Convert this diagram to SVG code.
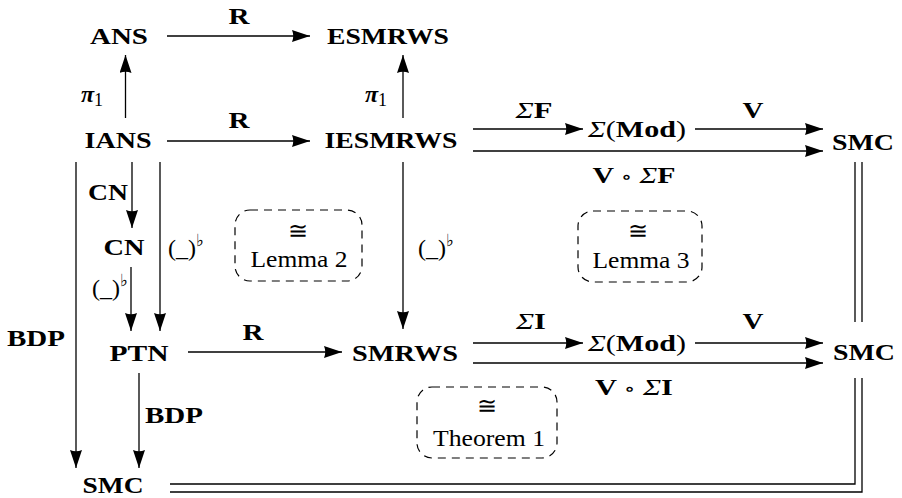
<svg xmlns="http://www.w3.org/2000/svg" width="902" height="498" viewBox="0 0 902 498">
<defs>
<marker id="ah" markerUnits="userSpaceOnUse" markerWidth="19" markerHeight="12" viewBox="0 0 19 12" refX="18" refY="6" orient="auto">
<path d="M0,0 L18,6 L0,12 Q2.5,6 0,0 z" fill="#000"/>
</marker>
<style>
.n{font-family:"Liberation Serif","Times New Roman",serif;font-weight:bold;font-size:24px;text-anchor:middle;fill:#000}
.r{font-family:"Liberation Serif","Times New Roman",serif;font-weight:normal;font-size:24px;text-anchor:middle;fill:#000}
.s{font-family:"DejaVu Serif",serif;font-size:24px;text-anchor:middle;fill:#000}
.st{font-family:"Liberation Serif","Times New Roman",serif;font-size:24px;fill:#000}
.fl{font-family:"DejaVu Sans",sans-serif;font-size:17px}
.it{font-style:italic;font-weight:normal}
.ring{font-family:"DejaVu Serif",serif;font-weight:normal;font-size:18px}
.a{stroke:#000;stroke-width:1.3;fill:none;marker-end:url(#ah)}
.dl{stroke:#000;stroke-width:1.3;fill:none}
.box{fill:none;stroke:#000;stroke-width:1.2;stroke-dasharray:8 6}
</style>
</defs>
<rect width="902" height="498" fill="#fff"/>

<g id="connectors">
<line class="a" x1="167" y1="36" x2="310" y2="36"/>
<line class="a" x1="167" y1="141" x2="310" y2="141"/>
<line class="a" x1="125.5" y1="118" x2="125.5" y2="55"/>
<line class="a" x1="403" y1="118" x2="403" y2="55"/>
<line class="a" x1="473" y1="129" x2="583" y2="129"/>
<line class="a" x1="695" y1="129" x2="823" y2="129"/>
<line class="a" x1="473" y1="151" x2="823" y2="151"/>
<line class="a" x1="132" y1="162" x2="132" y2="228"/>
<line class="a" x1="131" y1="267" x2="131" y2="331"/>
<line class="a" x1="160" y1="162" x2="160" y2="331"/>
<line class="a" x1="403" y1="162" x2="403" y2="329"/>
<line class="a" x1="76" y1="162" x2="76" y2="468"/>
<line class="a" x1="188" y1="352" x2="342" y2="352"/>
<line class="a" x1="473" y1="343" x2="583" y2="343"/>
<line class="a" x1="695" y1="343" x2="823" y2="343"/>
<line class="a" x1="473" y1="363" x2="823" y2="363"/>
<line class="a" x1="139" y1="373" x2="139" y2="468"/>
<line class="dl" x1="855" y1="162" x2="855" y2="322"/>
<line class="dl" x1="862" y1="162" x2="862" y2="322"/>
<polyline class="dl" points="855,378 855,484 170,484"/>
<polyline class="dl" points="862,378 862,492 170,492"/>
<text class="n" x="239" y="24" textLength="21" lengthAdjust="spacingAndGlyphs">R</text>
<text class="n" x="239" y="128" textLength="21" lengthAdjust="spacingAndGlyphs">R</text>
<text class="n" x="253" y="340" textLength="21" lengthAdjust="spacingAndGlyphs">R</text>
<text class="n" x="81" y="102" font-size="29px" style="text-anchor:start"><tspan font-style="italic">π</tspan><tspan font-weight="normal" font-size="18px" dy="4">1</tspan></text>
<text class="n" x="365" y="102" font-size="29px" style="text-anchor:start"><tspan font-style="italic">π</tspan><tspan font-weight="normal" font-size="18px" dy="4">1</tspan></text>
<text class="n" x="108" y="200" textLength="40" lengthAdjust="spacingAndGlyphs">CN</text>
<text class="st" x="168" y="256">(_)<tspan class="fl" dy="-10">♭</tspan></text>
<text class="st" x="92" y="296">(_)<tspan class="fl" dy="-10">♭</tspan></text>
<text class="st" x="418" y="256">(_)<tspan class="fl" dy="-10">♭</tspan></text>
<text class="n" x="36" y="346" textLength="58" lengthAdjust="spacingAndGlyphs">BDP</text>
<text class="n" x="174" y="423" textLength="58" lengthAdjust="spacingAndGlyphs">BDP</text>
<text class="n" x="534" y="118" textLength="37" lengthAdjust="spacingAndGlyphs"><tspan class="it">Σ</tspan>F</text>
<text class="n" x="753" y="118" textLength="21" lengthAdjust="spacingAndGlyphs">V</text>
<text class="n" x="634" y="183" textLength="83" lengthAdjust="spacingAndGlyphs">V <tspan class="ring">∘</tspan> <tspan class="it">Σ</tspan>F</text>
<text class="n" x="531" y="329" textLength="30" lengthAdjust="spacingAndGlyphs"><tspan class="it">Σ</tspan>I</text>
<text class="n" x="753" y="329" textLength="21" lengthAdjust="spacingAndGlyphs">V</text>
<text class="n" x="634" y="395" textLength="78" lengthAdjust="spacingAndGlyphs">V <tspan class="ring">∘</tspan> <tspan class="it">Σ</tspan>I</text>
</g>

<g id="ANS"><text class="n" x="119" y="44" textLength="58" lengthAdjust="spacingAndGlyphs">ANS</text></g>
<g id="ESMRWS"><text class="n" x="388" y="44" textLength="122" lengthAdjust="spacingAndGlyphs">ESMRWS</text></g>
<g id="IANS"><text class="n" x="118" y="148" textLength="67" lengthAdjust="spacingAndGlyphs">IANS</text></g>
<g id="IESMRWS"><text class="n" x="391" y="148" textLength="133" lengthAdjust="spacingAndGlyphs">IESMRWS</text></g>
<g id="SigmaMod1"><text class="n" x="637" y="137" textLength="98" lengthAdjust="spacingAndGlyphs"><tspan class="it">Σ</tspan><tspan font-weight="normal">(</tspan>Mod<tspan font-weight="normal">)</tspan></text></g>
<g id="SMC1"><text class="n" x="863" y="150" textLength="62" lengthAdjust="spacingAndGlyphs">SMC</text></g>
<g id="CN"><text class="n" x="124" y="255" textLength="41" lengthAdjust="spacingAndGlyphs">CN</text></g>
<g id="PTN"><text class="n" x="139" y="361" textLength="59" lengthAdjust="spacingAndGlyphs">PTN</text></g>
<g id="SMRWS"><text class="n" x="405" y="361" textLength="106" lengthAdjust="spacingAndGlyphs">SMRWS</text></g>
<g id="SigmaMod2"><text class="n" x="637" y="351" textLength="98" lengthAdjust="spacingAndGlyphs"><tspan class="it">Σ</tspan><tspan font-weight="normal">(</tspan>Mod<tspan font-weight="normal">)</tspan></text></g>
<g id="SMC2"><text class="n" x="864" y="360" textLength="62" lengthAdjust="spacingAndGlyphs">SMC</text></g>
<g id="SMC3"><text class="n" x="113" y="493" textLength="61" lengthAdjust="spacingAndGlyphs">SMC</text></g>

<g id="Lemma2">
<rect class="box" x="235" y="210" width="127" height="71" rx="15"/>
<text class="s" x="298" y="239">≅</text>
<text class="r" x="299" y="267" textLength="97" lengthAdjust="spacingAndGlyphs">Lemma 2</text>
</g>
<g id="Lemma3">
<rect class="box" x="578" y="211" width="124" height="71" rx="15"/>
<text class="s" x="638" y="239">≅</text>
<text class="r" x="641" y="268" textLength="97" lengthAdjust="spacingAndGlyphs">Lemma 3</text>
</g>
<g id="Theorem1">
<rect class="box" x="417" y="387" width="140" height="71" rx="15"/>
<text class="s" x="487" y="414">≅</text>
<text class="r" x="489" y="446" textLength="112" lengthAdjust="spacingAndGlyphs">Theorem 1</text>
</g>
</svg>
